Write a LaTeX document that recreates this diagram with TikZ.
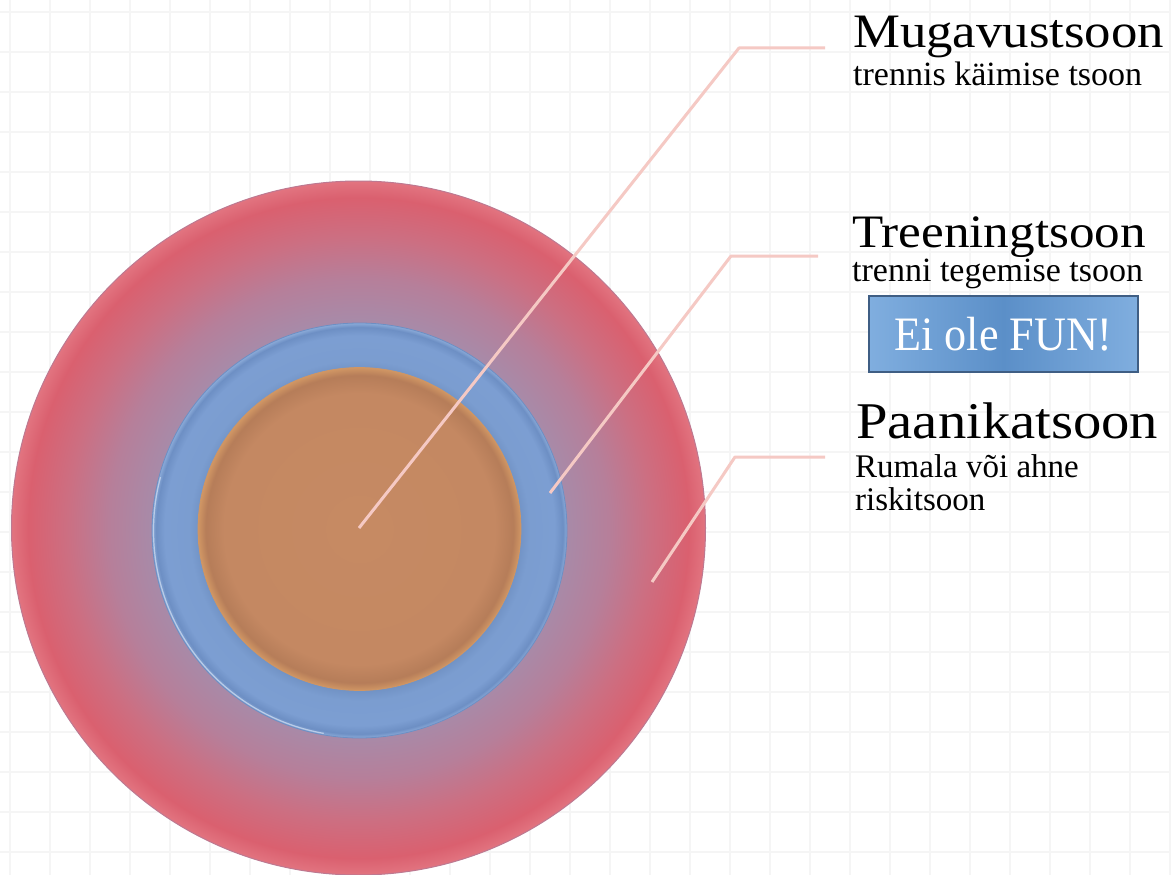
\documentclass[tikz,border=0pt]{standalone}
\usepackage{fontspec}
\setmainfont{Liberation Serif}
\newfontfamily\titlefont[FakeStretch=1.1]{Liberation Serif}
\newfontfamily\subfont{Liberation Serif}
\newfontfamily\funfont[FakeStretch=0.92]{Liberation Serif}
\definecolor{gridc}{HTML}{F5F5F5}
\definecolor{leaderc}{HTML}{F5C9C4}
\definecolor{rz0}{HTML}{A58CAB}
\definecolor{rz1}{HTML}{A88AA8}
\definecolor{rz2}{HTML}{B67F9A}
\definecolor{rz3}{HTML}{CC6F82}
\definecolor{rz4}{HTML}{DA606F}
\definecolor{rz5}{HTML}{E27480}
\definecolor{bz0}{HTML}{7B9DD0}
\definecolor{bz1}{HTML}{6F90C2}
\definecolor{bz2}{HTML}{7C9ED2}
\definecolor{bz3}{HTML}{6D8FC4}
\definecolor{bz4}{HTML}{8AAAD8}
\definecolor{oz0}{HTML}{C68A63}
\definecolor{oz1}{HTML}{C48862}
\definecolor{oz2}{HTML}{B67D59}
\definecolor{oz3}{HTML}{D09664}
\definecolor{btnlight}{HTML}{80AEDF}
\definecolor{btndark}{HTML}{5B8FC8}
\definecolor{btnedge}{HTML}{3F5E84}
\pgfdeclareradialshading{redzone}{\pgfpoint{0bp}{0bp}}{color(0bp)=(rz0); color(15bp)=(rz1); color(18bp)=(rz2); color(21bp)=(rz3); color(23.8bp)=(rz4); color(25bp)=(rz5); color(50bp)=(rz5)}
\pgfdeclareradialshading{bluezone}{\pgfpoint{0bp}{0bp}}{color(0bp)=(bz0); color(19bp)=(bz1); color(20.5bp)=(bz0); color(23.5bp)=(bz2); color(24.5bp)=(bz3); color(25bp)=(bz4); color(50bp)=(bz4)}
\pgfdeclareradialshading{orangezone}{\pgfpoint{0bp}{0bp}}{color(0bp)=(oz0); color(21bp)=(oz1); color(23.8bp)=(oz2); color(25bp)=(oz3); color(50bp)=(oz3)}
\pgfdeclarehorizontalshading{btnshade}{100bp}{color(0bp)=(btnlight); color(25bp)=(btnlight); color(50bp)=(btndark); color(75bp)=(btnlight); color(100bp)=(btnlight)}
\begin{document}
\begin{tikzpicture}[x=1pt,y=-1pt,
  gridline/.style={draw=gridc,line width=1.3pt},
  leader/.style={draw=leaderc,line width=3pt,line join=round},
  title/.style={anchor=base west,inner sep=0pt,text=black},
  subtitle/.style={anchor=base west,inner sep=0pt,text=black,font=\subfont\fontsize{34}{40}\selectfont},
  funbox/.style={rectangle,draw=btnedge,line width=1.6pt,shading=btnshade,minimum width=269pt,minimum height=76pt,inner sep=0pt,text=white,font=\funfont\fontsize{48}{54}\selectfont}]
\useasboundingbox (0,0) rectangle (1171,875);
\fill[white] (0,0) rectangle (1171,875);
% grid
\foreach \i in {0,...,29} \draw[gridline] (10+40*\i,0) -- (10+40*\i,875);
\foreach \j in {0,...,21} \draw[gridline] (0,12+40*\j) -- (1171,12+40*\j);
% zones
\shade[shading=redzone,draw=rz2!80!rz4,line width=1pt] (358.5,528) circle[radius=347];
\shade[shading=bluezone,draw=bz3,line width=0.8pt] (359.5,530.5) circle[radius=207.5];
\draw[draw=bz4!60!white,line width=1.2pt] (359.5,530.5) ++(100:206) arc[start angle=100,end angle=195,radius=206];
\shade[shading=orangezone,draw=oz3,line width=0.7pt] (359.5,529) circle[radius=161.5];
% leader points
\coordinate (mugA) at (359,528);
\coordinate (mugB) at (739,48);
\coordinate (mugC) at (825,48);
\coordinate (treA) at (550,493);
\coordinate (treB) at (731,256);
\coordinate (treC) at (818,256);
\coordinate (panA) at (652,582);
\coordinate (panB) at (735,457);
\coordinate (panC) at (825,457);
\draw[leader] (mugA) -- (mugB) -- (mugC);
\draw[leader] (treA) -- (treB) -- (treC);
\draw[leader] (panA) -- (panB) -- (panC);
% texts
\node[title,font=\titlefont\fontsize{48}{54}\selectfont] (mug) at (853,48) {Mugavustsoon};
\node[subtitle] (mugsub) at (853,85) {trennis käimise tsoon};
\node[title,font=\titlefont\fontsize{46.5}{54}\selectfont] (tre) at (852,247.5) {Treeningtsoon};
\node[subtitle] (tresub) at (852,281) {trenni tegemise tsoon};
\node[funbox] (fun) at (1003.5,334) {Ei ole FUN!};
\node[title,font=\titlefont\fontsize{51.5}{58}\selectfont] (pan) at (856,438) {Paanikatsoon};
\node[subtitle,font=\subfont\fontsize{33}{40}\selectfont] (pansubA) at (855,477) {Rumala või ahne};
\node[subtitle,font=\subfont\fontsize{33}{40}\selectfont] (pansubB) at (855,510) {riskitsoon};
\end{tikzpicture}
\end{document}
